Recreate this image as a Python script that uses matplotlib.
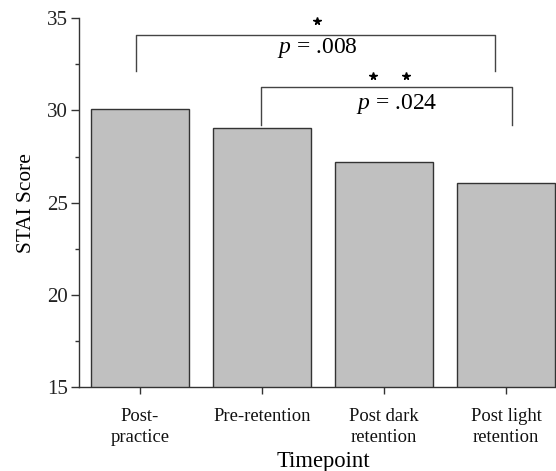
import matplotlib
matplotlib.use("Agg")
import matplotlib.pyplot as plt
from matplotlib.ticker import MultipleLocator

categories = ["Post-\npractice", "Pre-retention", "Post dark\nretention", "Post light\nretention"]
scores = [30.1, 29.04, 27.22, 26.06]
yticks = [15, 20, 25, 30, 35]

# significance annotations (data coordinates)
brackets = [
    # x_left, x_right, y_top, y_leg_left, y_leg_right
    (-0.03, 2.91, 34.11, 32.12, 32.12),
    (0.99, 3.05, 31.25, 29.2, 29.2),
]
p_labels = [(1.45, 33.4, ".008"), (2.1, 30.35, ".024")]
stars = [(1.45, 34.87), (1.91, 31.87), (2.18, 31.87)]

plt.rcParams['font.family'] = ['Liberation Serif', 'DejaVu Serif']
plt.rcParams['mathtext.fontset'] = 'custom'
plt.rcParams['mathtext.it'] = 'Liberation Serif:italic'
plt.rcParams['mathtext.rm'] = 'Liberation Serif'

fig = plt.figure(figsize=(5.56, 4.71), dpi=100)
W, H = 556, 471
ax = fig.add_axes([79 / W, 1 - 387 / H, (567 - 79) / W, (387 - 18.3) / H])

x = list(range(len(categories)))
ax.bar(x, scores, width=0.8, color="#c0c0c0", edgecolor="#333333", linewidth=1.0, bottom=0)
ax.set_xlim(-0.5, 3.5)
ax.set_ylim(15, 35)
ax.set_yticks(yticks)
ax.yaxis.set_minor_locator(MultipleLocator(2.5))
ax.set_xticks(x)
ax.set_xticklabels(categories, fontsize=13.4, linespacing=1.3, va="top")
ax.tick_params(axis="y", which="major", length=6, width=1, labelsize=15, colors="#333333", labelcolor="#222222", pad=2)
ax.tick_params(axis="y", which="minor", length=3, width=1, colors="#333333")
ax.tick_params(axis="x", length=5, width=1, colors="#333333", labelcolor="#111111", pad=10)
for s in ["top", "right"]:
    ax.spines[s].set_visible(False)
for s in ["left", "bottom"]:
    ax.spines[s].set_color("#333333")
    ax.spines[s].set_linewidth(1.0)

ax.set_ylabel("STAI Score", fontsize=15.4, labelpad=8)
ax.set_xlabel("Timepoint", fontsize=16.3, labelpad=4)

for xl, xr, yt, yl, yr in brackets:
    ax.plot([xl, xl, xr, xr], [yl, yt, yt, yr], color="#444444", lw=1.0, clip_on=False)
for px, py, txt in p_labels:
    ax.text(px, py, r"$p$ = " + txt, fontsize=17, ha="center", va="center")
for sx, sy in stars:
    ax.plot(sx, sy, marker="*", color="black", markersize=5.5, clip_on=False)

fig.savefig("out.png", dpi=100)
